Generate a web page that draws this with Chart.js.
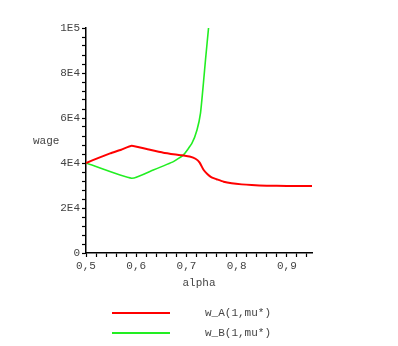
<!DOCTYPE html>
<html>
<head>
<meta charset="utf-8">
<script src="https://cdn.jsdelivr.net/npm/chart.js@4/dist/chart.umd.min.js"></script>
<style>
  html, body { margin: 0; padding: 0; background: #fff; }
  #wrap { width: 398px; height: 346px; }
</style>
</head>
<body>
<div id="wrap"><canvas id="wageChart" width="398" height="346"></canvas></div>
<script>
'use strict';

const alphaA = [0.5, 0.525, 0.548, 0.57, 0.591, 0.621, 0.654, 0.688, 0.708, 0.718, 0.726, 0.734, 0.742, 0.75, 0.76, 0.774, 0.79, 0.81, 0.83, 0.86, 0.9, 0.95];
const wageA = [40000, 42300, 44300, 45900, 47700, 46200, 44600, 43500, 42800, 41900, 40300, 37000, 35000, 33600, 32800, 31700, 31000, 30500, 30200, 29900, 29800, 29800];
const alphaB = [0.5, 0.591, 0.634, 0.674, 0.694, 0.711, 0.721, 0.728, 0.734, 0.738, 0.744];
const wageB = [40000, 33200, 36900, 40600, 43600, 48800, 54700, 62200, 76000, 86000, 100000];
const seriesNames = ['w_A(1,mu*)', 'w_B(1,mu*)'];
const yLabels = { 0: '0', 20000: '2E4', 40000: '4E4', 60000: '6E4', 80000: '8E4', 100000: '1E5' };

const FONT = '"Liberation Mono", "DejaVu Sans Mono", monospace';
const TEXT = '#444';

const toPoints = (xs, ys) => xs.map((x, i) => ({ x: x, y: ys[i] }));

// axis title + legend drawn by hand, the reference places them oddly
const extras = {
  id: 'extras',
  afterDraw(chart) {
    const c = chart.ctx;
    const area = chart.chartArea;
    c.save();
    c.font = '11px ' + FONT;
    c.fillStyle = TEXT;
    c.textBaseline = 'middle';
    c.textAlign = 'left';
    c.fillText('wage', 33, 141);
    c.textAlign = 'center';
    c.fillText('alpha', (area.left + area.right) / 2, 283);
    chart.data.datasets.forEach((ds, i) => {
      const y = 313 + i * 20;
      c.strokeStyle = ds.borderColor;
      c.lineWidth = 2;
      c.beginPath();
      c.moveTo(112, y);
      c.lineTo(170, y);
      c.stroke();
      c.textAlign = 'left';
      c.fillText(ds.label, 205, y);
    });
    c.restore();
  },
};

new Chart(document.getElementById('wageChart'), {
  type: 'line',
  data: {
    datasets: [
      {
        label: seriesNames[0],
        data: toPoints(alphaA, wageA),
        borderColor: '#ff0000',
        borderWidth: 2,
        pointRadius: 0,
        tension: 0.15,
      },
      {
        label: seriesNames[1],
        data: toPoints(alphaB, wageB),
        borderColor: '#22ee22',
        borderWidth: 1.6,
        pointRadius: 0,
        tension: 0.15,
      },
    ],
  },
  options: {
    responsive: false,
    animation: false,
    layout: { padding: { left: 0, top: 28, right: 86, bottom: 73 } },
    plugins: {
      legend: { display: false },
      tooltip: { enabled: false },
    },
    scales: {
      x: {
        type: 'linear',
        min: 0.5,
        max: 0.95,
        afterFit: (scale) => { scale.height = 20; },
        afterBuildTicks: (scale) => {
          const t = [];
          for (let i = 0; i <= 22; i++) t.push({ value: +(0.5 + i * 0.02).toFixed(2) });
          scale.ticks = t;
        },
        border: { color: '#000', width: 1.5 },
        grid: { drawOnChartArea: false, tickLength: 4, color: '#000', tickWidth: 1.2 },
        ticks: {
          autoSkip: false,
          maxRotation: 0,
          padding: 2,
          color: TEXT,
          font: { family: FONT, size: 11 },
          callback: (value) => {
            const v = Math.round(value * 100);
            return v % 10 === 0 ? (v / 100).toFixed(1).replace('.', ',') : '';
          },
        },
      },
      y: {
        min: 0,
        max: 100000,
        afterFit: (scale) => { scale.width = 86; },
        border: { color: '#000', width: 1.5 },
        grid: { drawOnChartArea: false, tickLength: 4, color: '#000', tickWidth: 1.2 },
        ticks: {
          stepSize: 4000,
          autoSkip: false,
          padding: 2,
          color: TEXT,
          font: { family: FONT, size: 11 },
          callback: (value) => yLabels[value] || '',
        },
      },
    },
  },
  plugins: [extras],
});
</script>
</body>
</html>
